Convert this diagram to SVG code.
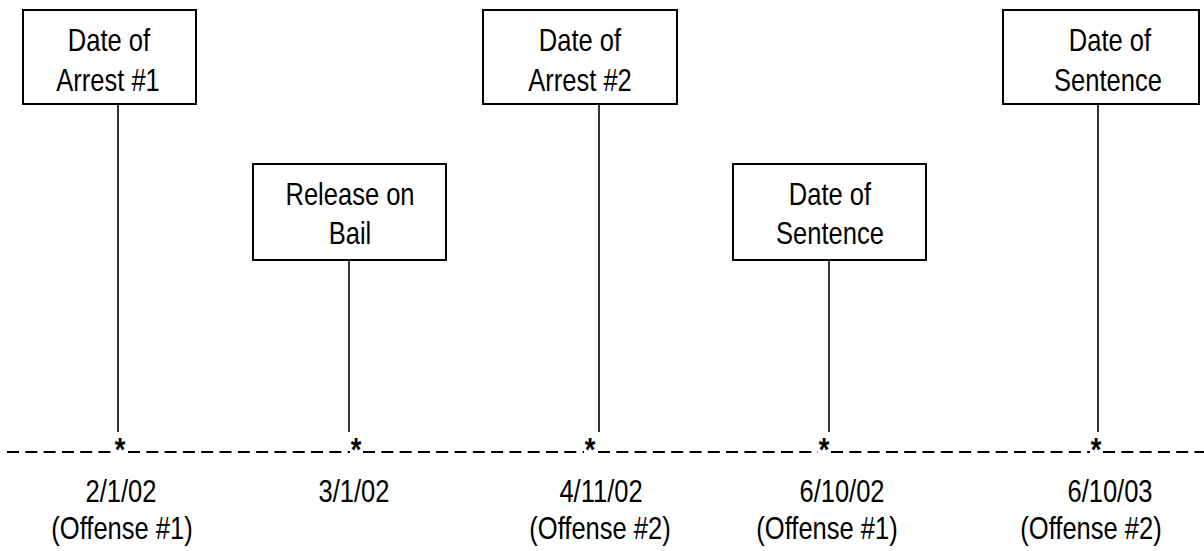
<svg xmlns="http://www.w3.org/2000/svg" width="1204" height="551" viewBox="0 0 1204 551">
<style>
.box{fill:#fff;stroke:#000;stroke-width:2}
.stem{stroke:#000;stroke-width:1.6;fill:none}
.dash{stroke:#000;stroke-width:2.2;stroke-dasharray:12 6.3;fill:none}
text{font-family:"Liberation Sans",Arial,sans-serif;font-size:31.5px;fill:#000;text-anchor:middle}
.ast{font-size:34px;font-weight:bold}
</style>
<rect width="1204" height="551" fill="#fff"/>
<g id="connectors">
<path class="stem" d="M118 104V432"/>
<path class="stem" d="M349 260V432"/>
<path class="stem" d="M599 104V432"/>
<path class="stem" d="M829 260V432"/>
<path class="stem" d="M1098 104V432"/>
</g>
<g id="timeline">
<path class="dash" d="M7 452H112"/>
<path class="dash" d="M128 452H350"/>
<path class="dash" d="M363 452H584"/>
<path class="dash" d="M598 452H818"/>
<path class="dash" d="M831 452H1090"/>
<path class="dash" d="M1103 452H1204"/>
<text class="ast" transform="translate(120,461) scale(0.8,1)">*</text>
<text class="ast" transform="translate(356,461) scale(0.8,1)">*</text>
<text class="ast" transform="translate(590,461) scale(0.8,1)">*</text>
<text class="ast" transform="translate(824,461) scale(0.8,1)">*</text>
<text class="ast" transform="translate(1096,461) scale(0.8,1)">*</text>
</g>
<g id="arrest1">
<rect class="box" x="23" y="10" width="173" height="94"/>
<text transform="translate(109,51) scale(0.81,1)">Date of</text>
<text transform="translate(108,91) scale(0.81,1)">Arrest #1</text>
</g>
<g id="bail">
<rect class="box" x="253" y="164" width="193" height="96"/>
<text transform="translate(350,205) scale(0.81,1)">Release on</text>
<text transform="translate(350,244) scale(0.81,1)">Bail</text>
</g>
<g id="arrest2">
<rect class="box" x="483" y="10" width="194" height="94"/>
<text transform="translate(580,51) scale(0.81,1)">Date of</text>
<text transform="translate(580,91) scale(0.81,1)">Arrest #2</text>
</g>
<g id="sentence1">
<rect class="box" x="733" y="164" width="193" height="96"/>
<text transform="translate(830,205) scale(0.81,1)">Date of</text>
<text transform="translate(830,244) scale(0.81,1)">Sentence</text>
</g>
<g id="sentence2">
<rect class="box" x="1003" y="10" width="196" height="94"/>
<text transform="translate(1110,51) scale(0.81,1)">Date of</text>
<text transform="translate(1108,91) scale(0.81,1)">Sentence</text>
</g>
<g id="dates">
<text transform="translate(121,502) scale(0.81,1)">2/1/02</text>
<text transform="translate(122,539) scale(0.81,1)">(Offense #1)</text>
<text transform="translate(354,502) scale(0.81,1)">3/1/02</text>
<text transform="translate(601,502) scale(0.81,1)">4/11/02</text>
<text transform="translate(600,539) scale(0.81,1)">(Offense #2)</text>
<text transform="translate(842,502) scale(0.81,1)">6/10/02</text>
<text transform="translate(827,539) scale(0.81,1)">(Offense #1)</text>
<text transform="translate(1110,502) scale(0.81,1)">6/10/03</text>
<text transform="translate(1091,539) scale(0.81,1)">(Offense #2)</text>
</g>
</svg>
